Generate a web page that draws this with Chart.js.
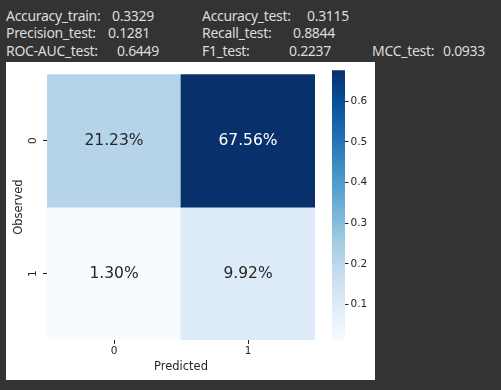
<!DOCTYPE html>
<html><head><meta charset="utf-8">
<script src="https://cdn.jsdelivr.net/npm/chart.js@4"></script>
<style>
html,body{margin:0;padding:0;background:#333333;width:501px;height:390px;overflow:hidden;}
.t{position:absolute;font-family:"Noto Sans",sans-serif;font-size:14px;letter-spacing:-0.3px;line-height:17.5px;color:#dcdcdc;white-space:pre;}
#panel{position:absolute;left:6px;top:62px;width:369px;height:318px;background:#ffffff;}
#hm{position:absolute;left:0;top:0;width:310px;height:318px;}
#cb{position:absolute;left:310px;top:0;width:59px;height:318px;}
</style></head><body>
<div id="hdr"></div>
<div id="panel"><canvas id="hm" width="310" height="318"></canvas><canvas id="cb" width="59" height="318"></canvas></div>
<script>
// ---- data ----
const predictedLabels = ['0', '1'];
const observedLabels = ['0', '1'];
const observed0 = [0.2123, 0.6756];
const observed1 = [0.0130, 0.0992];
const colorbarTicks = [0.1, 0.2, 0.3, 0.4, 0.5, 0.6];
const metricLabels = ['Accuracy_train:', 'Accuracy_test:', 'Precision_test:', 'Recall_test:', 'ROC-AUC_test:', 'F1_test:', 'MCC_test:'];
const metricValues = ['0.3329', '0.3115', '0.1281', '0.8844', '0.6449', '0.2237', '0.0933'];

// ---- header layout (positions only) ----
const hdrLayout = [
  {lx: 6, vx: 112, y: 6.5}, {lx: 202, vx: 307, y: 6.5},
  {lx: 6, vx: 108, y: 24}, {lx: 202, vx: 293, y: 24},
  {lx: 6, vx: 117, y: 41.5}, {lx: 202, vx: 289, y: 41.5},
  {lx: 372, vx: 443, y: 41.5}
];
const hdr = document.getElementById('hdr');
metricLabels.forEach((lab, i) => {
  const L = hdrLayout[i];
  const a = document.createElement('span'); a.className = 't'; a.textContent = lab;
  a.style.left = L.lx + 'px'; a.style.top = L.y + 'px'; hdr.appendChild(a);
  const b = document.createElement('span'); b.className = 't'; b.textContent = metricValues[i];
  b.style.left = L.vx + 'px'; b.style.top = L.y + 'px'; hdr.appendChild(b);
});

// ---- Blues colormap ----
const BLUES = [[247,251,255],[222,235,247],[198,219,239],[158,202,225],[107,174,214],[66,146,198],[33,113,181],[8,81,156],[8,48,107]];
const allVals = observed0.concat(observed1);
const vmin = Math.min(...allVals), vmax = Math.max(...allVals);
function blues(t) {
  t = Math.max(0, Math.min(1, t));
  const p = t * (BLUES.length - 1);
  const i = Math.min(Math.floor(p), BLUES.length - 2);
  const f = p - i;
  const c = BLUES[i].map((v, k) => Math.round(v + (BLUES[i + 1][k] - v) * f));
  return 'rgb(' + c.join(',') + ')';
}
const norm = v => (v - vmin) / (vmax - vmin);

Chart.defaults.font.family = '"DejaVu Sans", sans-serif';
Chart.defaults.color = '#262626';

const annot = {
  id: 'annot',
  afterDatasetsDraw(chart) {
    const ctx = chart.ctx;
    chart.data.datasets.forEach((ds, di) => {
      const meta = chart.getDatasetMeta(di);
      meta.data.forEach((el, i) => {
        const v = ds.values[i];
        const p = el.getCenterPoint();
        ctx.save();
        ctx.font = '15.5px "DejaVu Sans"';
        ctx.fillStyle = norm(v) > 0.6 ? '#ffffff' : '#262626';
        ctx.textAlign = 'center';
        ctx.textBaseline = 'middle';
        ctx.fillText((v * 100).toFixed(2) + '%', p.x, p.y);
        ctx.restore();
      });
    });
  }
};

const rows = [observed0, observed1];
new Chart(document.getElementById('hm'), {
  type: 'bar',
  data: {
    labels: predictedLabels,
    datasets: rows.map((r, ri) => ({
      values: r,
      data: r.map(() => [ri, ri + 1]),
      backgroundColor: r.map(v => blues(norm(v))),
      borderWidth: 0,
      grouped: false,
      barPercentage: 1,
      categoryPercentage: 1
    }))
  },
  options: {
    responsive: false,
    animation: false,
    devicePixelRatio: 1,
    layout: {padding: {top: 6, right: 1, left: 0, bottom: 0}},
    plugins: {legend: {display: false}, tooltip: {enabled: false}},
    scales: {
      x: {
        type: 'category',
        offset: true,
        grid: {offset: false, drawOnChartArea: false, tickLength: 4, color: '#262626'},
        border: {display: false},
        ticks: {padding: 1, font: {size: 10.5}, color: '#262626'},
        title: {display: true, text: 'Predicted', font: {size: 11.5}, color: '#262626', padding: {top: 0, bottom: 6.4}},
        afterFit: s => { s.height = 40; }
      },
      y: {
        type: 'linear',
        min: 0, max: 2, reverse: true,
        grid: {drawOnChartArea: false, tickLength: 4, color: '#262626'},
        border: {display: false},
        afterBuildTicks: s => { s.ticks = observedLabels.map((l, i) => ({value: i + 0.5})); },
        ticks: {
          padding: 6, crossAlign: 'center', minRotation: 90, maxRotation: 90,
          font: {size: 10.5}, color: '#262626',
          callback: v => observedLabels[Math.round(v - 0.5)]
        },
        title: {display: true, text: 'Observed', font: {size: 11.5}, color: '#262626', padding: {top: 6.1, bottom: 0}},
        afterFit: s => { s.width = 41; }
      }
    }
  },
  plugins: [annot]
});

new Chart(document.getElementById('cb'), {
  type: 'bar',
  data: {
    labels: ['cb'],
    datasets: [{
      data: [[vmin, vmax]],
      backgroundColor: c => {
        const ca = c.chart.chartArea;
        if (!ca) return null;
        const g = c.chart.ctx.createLinearGradient(0, ca.bottom, 0, ca.top);
        BLUES.forEach((col, i) => g.addColorStop(i / (BLUES.length - 1), 'rgb(' + col.join(',') + ')'));
        return g;
      },
      borderWidth: 0,
      barPercentage: 1,
      categoryPercentage: 1
    }]
  },
  options: {
    responsive: false,
    animation: false,
    devicePixelRatio: 1,
    layout: {padding: {top: 6, right: 0, left: 16, bottom: 40}},
    plugins: {legend: {display: false}, tooltip: {enabled: false}},
    scales: {
      x: {display: false},
      y: {
        type: 'linear', position: 'right',
        min: vmin, max: vmax,
        grid: {drawOnChartArea: false, tickLength: 3.5, color: '#262626'},
        border: {display: false},
        afterBuildTicks: s => { s.ticks = colorbarTicks.map(v => ({value: v})); },
        ticks: {padding: 2, font: {size: 10.5}, color: '#262626', callback: v => v.toFixed(1)},
        afterFit: s => { s.width = 30; }
      }
    }
  }
});
</script>
</body></html>
